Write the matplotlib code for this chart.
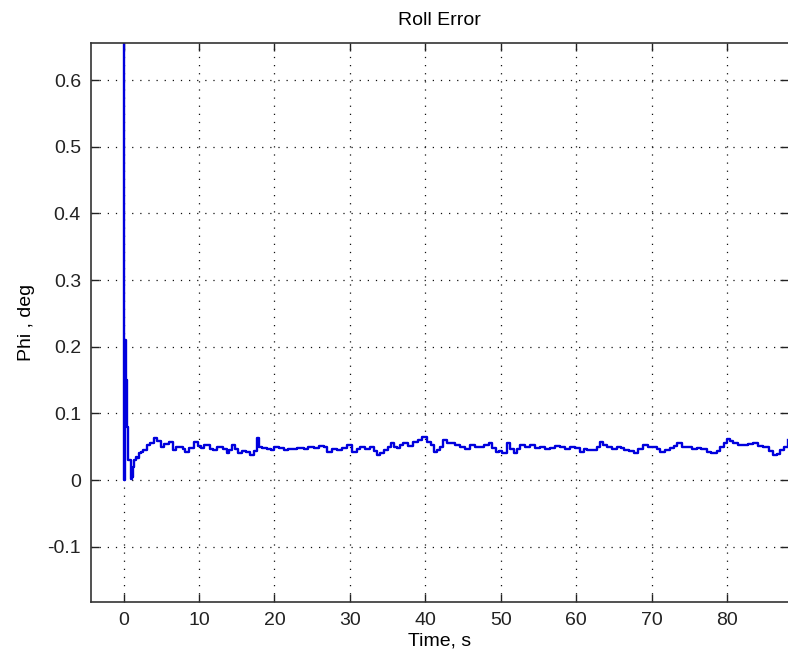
import matplotlib.pyplot as plt

# roll error trace: (time in s, phi in deg)
trace = [
    (0.0, 1.0), (0.05, 0.0), (0.2, 0.21), (0.3, 0.15), (0.45, 0.08), (0.65, 0.03),
    (0.95, 0.002), (1.05, 0.005), (1.2, 0.02), (1.4, 0.03), (1.6, 0.035), (1.8, 0.033),
    (2.0, 0.04), (2.25, 0.042), (2.6, 0.045), (3.1, 0.052), (3.5, 0.055), (4.0, 0.063),
    (4.4, 0.058), (4.9, 0.05), (5.4, 0.054), (6.0, 0.057), (6.6, 0.045), (7.0, 0.049),
    (7.5, 0.05), (7.9, 0.046), (8.2, 0.042), (8.7, 0.048), (9.3, 0.057), (9.8, 0.051),
    (10.2, 0.048), (10.7, 0.053), (11.1, 0.052), (11.5, 0.047), (11.9, 0.045),
    (12.4, 0.049), (12.8, 0.05), (13.2, 0.046), (13.7, 0.04), (14.0, 0.045),
    (14.4, 0.052), (14.8, 0.047), (15.2, 0.04), (15.7, 0.044), (16.2, 0.042),
    (16.8, 0.037), (17.3, 0.043), (17.7, 0.063), (18.0, 0.05), (18.4, 0.048),
    (19.0, 0.046), (19.5, 0.045), (20.0, 0.049), (20.6, 0.048), (21.2, 0.045),
    (21.8, 0.047), (22.4, 0.046), (23.0, 0.048), (23.9, 0.046), (24.5, 0.05),
    (25.2, 0.048), (25.9, 0.051), (26.5, 0.05), (27.0, 0.042), (27.6, 0.046),
    (28.3, 0.045), (29.0, 0.048), (29.6, 0.052), (30.3, 0.042), (30.9, 0.046),
    (31.4, 0.05), (32.0, 0.047), (32.7, 0.05), (33.2, 0.044), (33.6, 0.037),
    (34.0, 0.041), (34.5, 0.045), (35.0, 0.05), (35.4, 0.055), (35.8, 0.05),
    (36.2, 0.048), (36.7, 0.052), (37.1, 0.055), (37.7, 0.051), (38.4, 0.057),
    (39.0, 0.06), (39.6, 0.065), (40.2, 0.057), (40.7, 0.052), (41.1, 0.042),
    (41.5, 0.045), (42.0, 0.05), (42.4, 0.06), (42.9, 0.056), (43.3, 0.055),
    (43.9, 0.052), (44.6, 0.05), (45.2, 0.047), (45.9, 0.052), (46.6, 0.049),
    (47.3, 0.05), (47.8, 0.053), (48.4, 0.055), (48.9, 0.048), (49.3, 0.042),
    (49.7, 0.044), (50.1, 0.04), (50.8, 0.055), (51.2, 0.046), (51.7, 0.04),
    (52.2, 0.047), (52.6, 0.052), (53.2, 0.049), (53.9, 0.052), (54.5, 0.048),
    (55.2, 0.05), (55.9, 0.046), (56.5, 0.048), (57.2, 0.051), (57.9, 0.05),
    (58.5, 0.047), (59.2, 0.05), (59.9, 0.048), (60.5, 0.042), (61.0, 0.046),
    (61.4, 0.045), (61.9, 0.045), (62.7, 0.05), (63.2, 0.057), (63.6, 0.052),
    (64.1, 0.05), (64.7, 0.047), (65.4, 0.05), (65.9, 0.048), (66.3, 0.045),
    (67.0, 0.043), (67.6, 0.04), (68.2, 0.046), (68.9, 0.052), (69.5, 0.049),
    (70.2, 0.05), (70.7, 0.046), (71.1, 0.042), (71.8, 0.045), (72.4, 0.048),
    (72.9, 0.051), (73.3, 0.055), (74.0, 0.05), (74.7, 0.05), (75.3, 0.047),
    (76.0, 0.048), (76.6, 0.046), (77.3, 0.042), (77.8, 0.04), (78.2, 0.04),
    (78.7, 0.044), (79.1, 0.05), (79.6, 0.056), (80.0, 0.062), (80.4, 0.058),
    (80.8, 0.055), (81.4, 0.052), (82.1, 0.052), (82.8, 0.054), (83.4, 0.055),
    (84.1, 0.051), (84.8, 0.05), (85.5, 0.044), (86.1, 0.037), (86.6, 0.039),
    (87.0, 0.045), (87.5, 0.049), (88.1, 0.06),
]
time_s = [t for t, v in trace]
phi_deg = [v for t, v in trace]

x_ticks = [0, 10, 20, 30, 40, 50, 60, 70, 80]
y_ticks = [-0.1, 0, 0.1, 0.2, 0.3, 0.4, 0.5, 0.6]
y_labels = ['-0.1', '0', '0.1', '0.2', '0.3', '0.4', '0.5', '0.6']

plt.rcParams['font.family'] = ['Liberation Sans', 'DejaVu Sans']

fig = plt.figure(figsize=(7.88, 6.66), dpi=100, facecolor='w')
ax = fig.add_axes([0.115, 0.096, 0.885, 0.8394])

ax.plot(time_s, phi_deg, color='#0000dd', linewidth=1.7, drawstyle='steps-post')

ax.set_xlim(-4.37, 88.07)
ax.set_ylim(-0.183, 0.6555)
ax.set_xticks(x_ticks)
ax.set_yticks(y_ticks)
ax.set_yticklabels(y_labels)
ax.grid(True, linestyle=(0, (1, 5.5)), color='#111111', linewidth=0.9)

ax.tick_params(direction='in', length=6, width=1, top=True, right=True,
               labelsize=14, pad=7, colors='#222222')
for side in ['top', 'left', 'bottom']:
    ax.spines[side].set_linewidth(1.2)
    ax.spines[side].set_color('#333333')
ax.spines['right'].set_visible(False)

ax.set_title('Roll Error', fontsize=14, pad=13)
ax.set_xlabel('Time, s', fontsize=14, labelpad=3)
ax.set_ylabel('Phi , deg', fontsize=14, labelpad=9)

fig.savefig('out.png', dpi=100, facecolor='w')
